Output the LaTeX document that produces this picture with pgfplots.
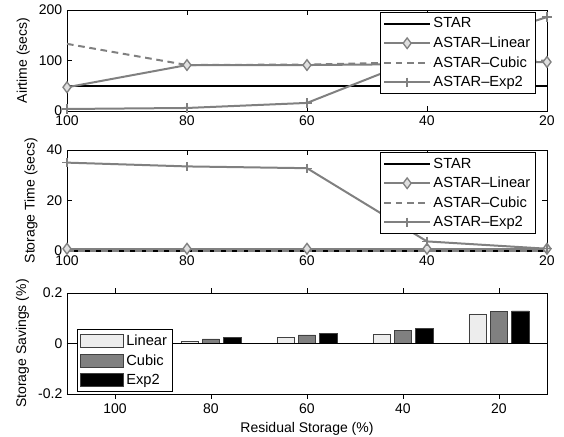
\documentclass[border=0pt]{standalone}
\usepackage{fontspec}
\setmainfont{Liberation Sans}
\usepackage{pgfplots}
\pgfplotsset{compat=1.18}

\newcommand{\ff}{\fontsize{10.5}{12}\selectfont}
\newcommand{\lf}{\fontsize{11}{12}\selectfont}
\definecolor{ml}{gray}{0.5}

\pgfplotsset{
  base/.style={
    scale only axis, width=360pt, height=75.75pt,
    tick align=inside, major tick length=3.5pt,
    tick label style={font=\ff},
    label style={font=\ff},
    /pgf/number format/assume math mode=true,
    axis line style={line width=0.6pt},
    every tick/.style={black, line width=0.5pt},
    clip=false,
  },
  linep/.style={
    base, xmin=20, xmax=100, x dir=reverse, xtick={100,80,60,40,20},
    legend cell align=left,
    legend style={at={(0.977,0.98)}, anchor=north east, font=\lf,
      draw=black, line width=0.6pt, inner sep=2pt, row sep=1.2pt},
    legend image code/.code={%
      \draw[mark repeat=2,mark phase=2,##1] plot coordinates {(0pt,0pt) (17pt,0pt) (34pt,0pt)};},
  },
  star/.style={black, line width=1.5pt, no marks},
  lin/.style={ml, line width=1.5pt, mark=diamond*, mark size=4pt, mark options={solid, fill=gray!25, draw=ml, line width=1pt}},
  cub/.style={ml, line width=1.5pt, dash pattern=on 5pt off 3.5pt, no marks},
  exq/.style={ml, line width=1.5pt, mark=+, mark size=3.5pt, mark options={solid, line width=1pt}},
}

\begin{document}
\begin{tikzpicture}
\useasboundingbox (-50.25pt,7.5pt) rectangle (372.75pt,-319.5pt);

% airtime
\begin{axis}[linep, at={(0pt,0pt)}, anchor=north west,
  ymin=0, ymax=200, ytick={0,100,200}, ylabel={Airtime (secs)}]
\addplot[star] coordinates {(100,50) (80,50) (60,50) (40,50) (20,50)};
\addplot[lin] coordinates {(100,47) (80,91) (60,91) (40,93) (20,97)};
\addplot[cub] coordinates {(100,133) (80,91) (60,92) (40,97) (20,100)};
\addplot[exq] coordinates {(100,4) (80,6) (60,16) (40,110) (20,186)};
\legend{STAR, ASTAR–Linear, ASTAR–Cubic, ASTAR–Exp2}
\end{axis}

% storage time
\begin{axis}[linep, at={(0pt,-105pt)}, anchor=north west,
  ymin=0, ymax=40, ytick={0,20,40}, ylabel={Storage Time (secs)}]
\addplot[star] coordinates {(100,0.3) (80,0.3) (60,0.3) (40,0.3) (20,0.3)};
\addplot[lin] coordinates {(100,0.9) (80,0.9) (60,0.9) (40,0.9) (20,0.9)};
\addplot[cub] coordinates {(100,0.1) (80,0.1) (60,0.1) (40,0.1) (20,0.1)};
\addplot[exq] coordinates {(100,35) (80,33.5) (60,32.8) (40,3.8) (20,0.9)};
\legend{STAR, ASTAR–Linear, ASTAR–Cubic, ASTAR–Exp2}
\end{axis}

% savings
\begin{axis}[base, at={(0pt,-212.25pt)}, anchor=north west,
  ymin=-0.2, ymax=0.2, ytick={-0.2,0,0.2}, yticklabels={-0.2,0,0.2},
  xmin=0.5, xmax=5.5, xtick={1,2,3,4,5}, xticklabels={100,80,60,40,20},
  ylabel={Storage Savings (\%)}, xlabel={Residual Storage (\%)},
  ybar=3pt, bar width=13pt,
  legend cell align=left,
  legend style={at={(0.021,0.02)}, anchor=south west, font=\lf,
    draw=black, line width=0.6pt, inner sep=2pt, row sep=1.2pt},
  legend image code/.code={\draw[#1, draw=black!75, line width=0.6pt] (0pt,-5pt) rectangle (32pt,5pt);},
]
\addplot[fill=black!7, draw=black!75, line width=0.6pt] coordinates {(1,0) (2,0.007) (3,0.025) (4,0.037) (5,0.117)};
\addplot[fill=black!50, draw=black!75, line width=0.6pt] coordinates {(1,0) (2,0.018) (3,0.034) (4,0.053) (5,0.128)};
\addplot[fill=black, draw=black!75, line width=0.6pt] coordinates {(1,0) (2,0.025) (3,0.040) (4,0.058) (5,0.129)};
\addplot[sharp plot, black, line width=0.6pt, forget plot] coordinates {(0.5,0) (5.5,0)};
\legend{Linear, Cubic, Exp2}
\end{axis}
\end{tikzpicture}
\end{document}
